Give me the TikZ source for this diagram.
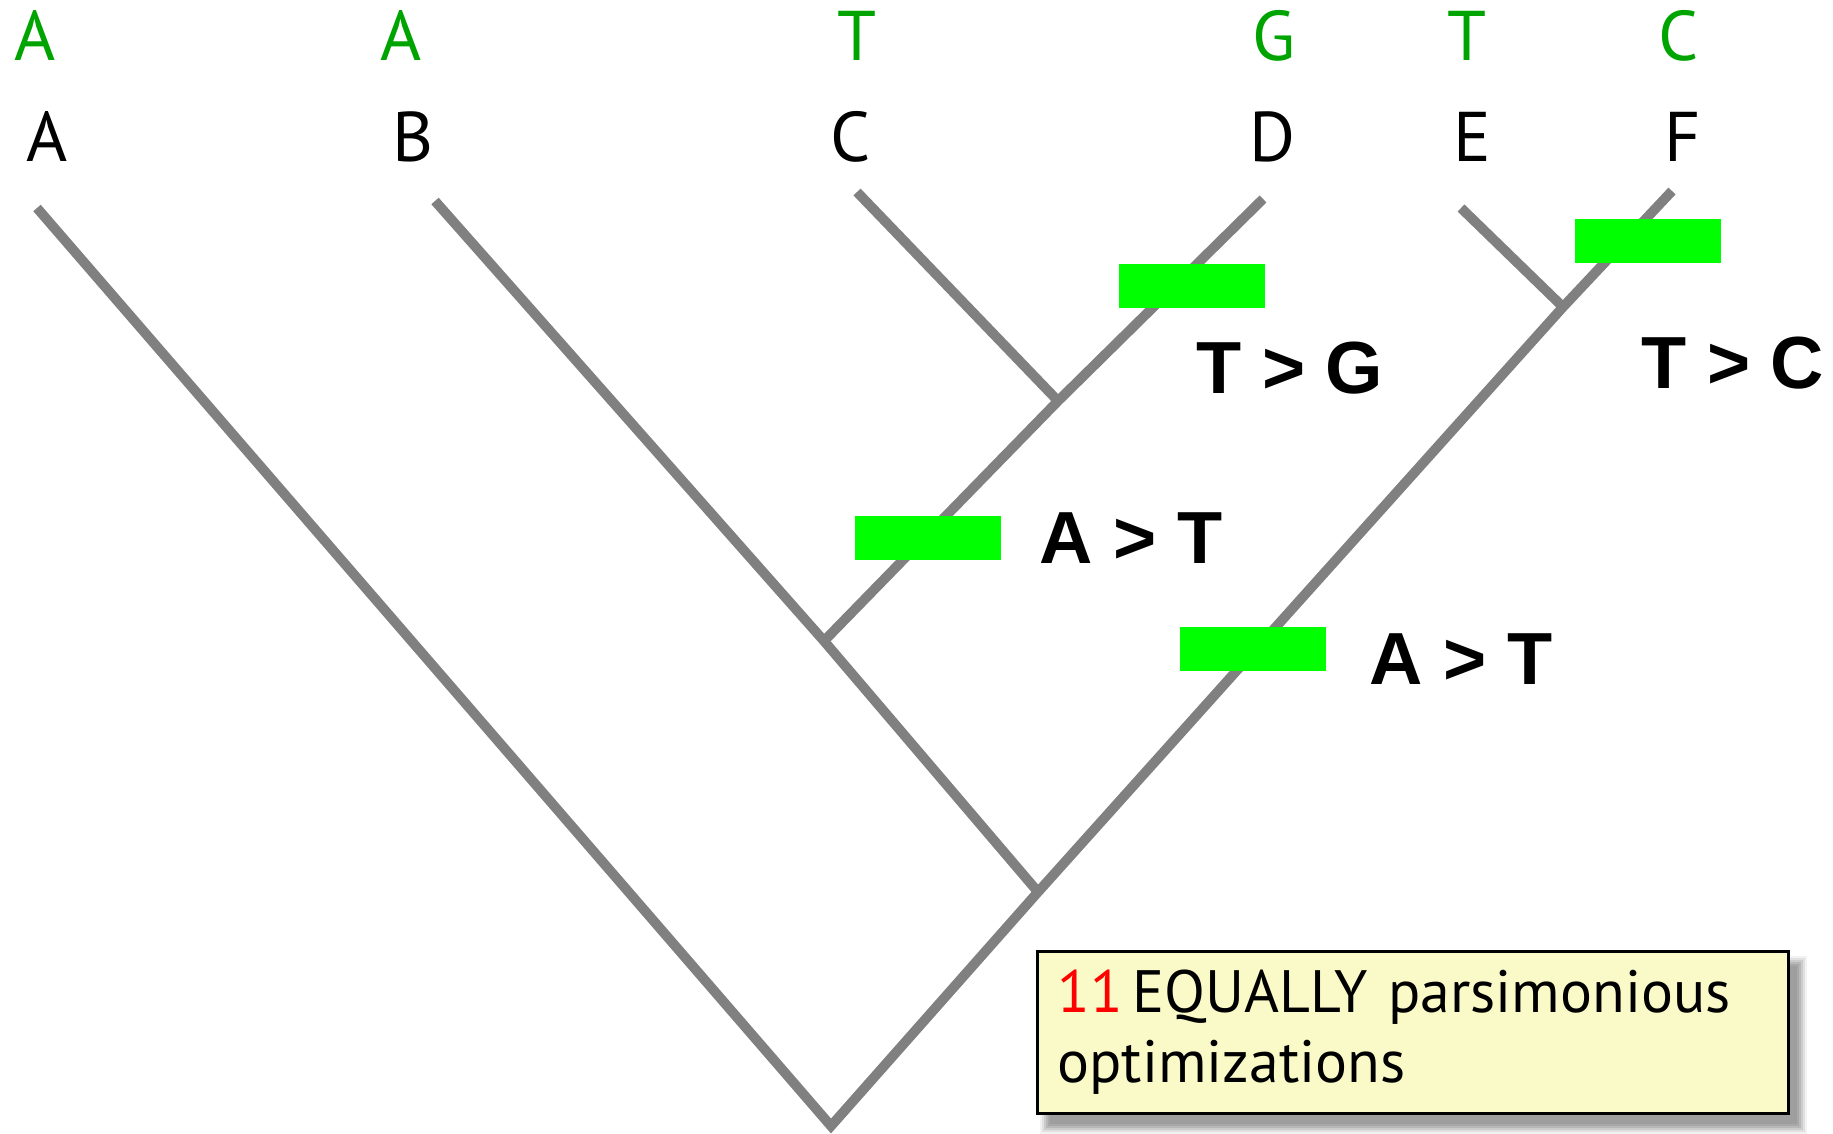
\documentclass[tikz,border=0pt]{standalone}
\usepackage{xcolor}
\usepackage{fontspec}
\setmainfont{PT Sans}
\newfontfamily\changefont{Liberation Sans}
\definecolor{BranchGray}{HTML}{808080}
\definecolor{StateGreen}{HTML}{00A400}
\definecolor{ChangeGreen}{HTML}{00FF00}
\definecolor{NoteYellow}{HTML}{FAFAC8}

\begin{document}
\begin{tikzpicture}[x=0.01cm, y=-0.01cm,
  branch/.style={draw=BranchGray, line width=2.8pt},
  taxon/.style={font=\fontsize{20}{24}\selectfont, text=black, inner sep=0pt},
  state/.style={font=\fontsize{20}{24}\selectfont, text=StateGreen, inner sep=0pt},
  change/.style={fill=ChangeGreen, minimum width=1.46cm, minimum height=0.43cm, inner sep=0pt},
  changelabel/.style={font=\changefont\bfseries\fontsize{21}{24}\selectfont, inner sep=0pt},
  note/.style={draw=black, line width=0.8pt, fill=NoteYellow, anchor=north west,
               minimum width=7.51cm, minimum height=1.62cm, text width=7.11cm,
               inner xsep=0.2cm, align=left, font=\fontsize{17}{20}\selectfont}
]
  \useasboundingbox (0,0) rectangle (1833,1134);

  % tips and internal nodes
  \coordinate (tA)   at (37,208);
  \coordinate (tB)   at (435,201);
  \coordinate (tC)   at (857,192);
  \coordinate (tD)   at (1263,199);
  \coordinate (tE)   at (1461,208);
  \coordinate (tF)   at (1672,191);
  \coordinate (root) at (831,1126);
  \coordinate (nBF)  at (1038,892);
  \coordinate (nBD)  at (824,641);
  \coordinate (nCD)  at (1058,401);
  \coordinate (nEF)  at (1563,307);

  % branches
  \draw[branch] (tA) -- (root) -- (nBF) -- (nEF) -- (tF);
  \draw[branch] (tB) -- (nBD) -- (nBF);
  \draw[branch] (tD) -- (nCD) -- (nBD);
  \draw[branch] (tC) -- (nCD);
  \draw[branch] (tE) -- (nEF);

  % taxa and their states
  \node[taxon] (labA) at (47,137)   {A};
  \node[taxon] (labB) at (413,137)  {B};
  \node[taxon] (labC) at (851,137)  {C};
  \node[taxon] (labD) at (1272,137) {D};
  \node[taxon] (labE) at (1472,137) {E};
  \node[taxon] (labF) at (1683,137) {F};
  \node[state] (stA) at (35,36)   {A};
  \node[state] (stB) at (401,36)  {A};
  \node[state] (stC) at (857,36)  {T};
  \node[state] (stD) at (1274,36) {G};
  \node[state] (stE) at (1467,36) {T};
  \node[state] (stF) at (1679,36) {C};

  % state changes
  \node[change] (chD)  at (1192,286) {};
  \node[change] (chF)  at (1648,241) {};
  \node[change] (chCD) at (928,538)  {};
  \node[change] (chEF) at (1253,649) {};
  \node[changelabel] (txD)  at (1290,368) {T > G};
  \node[changelabel] (txF)  at (1733,363) {T > C};
  \node[changelabel] (txCD) at (1131,538) {A > T};
  \node[changelabel] (txEF) at (1461,659) {A > T};

  % soft shadow under the note: grey rings, lightest outside
  \foreach \s/\g in {8/5,6/12,4/20,2/28,0/34,-2/38}
    \fill[black!\g] (1048-\s,964-\s) rectangle (1799+\s,1126+\s);
  \node[note] (note) at (1036,950) {\textcolor{red}{11}\,EQUALLY parsimonious\\optimizations};
\end{tikzpicture}
\end{document}
